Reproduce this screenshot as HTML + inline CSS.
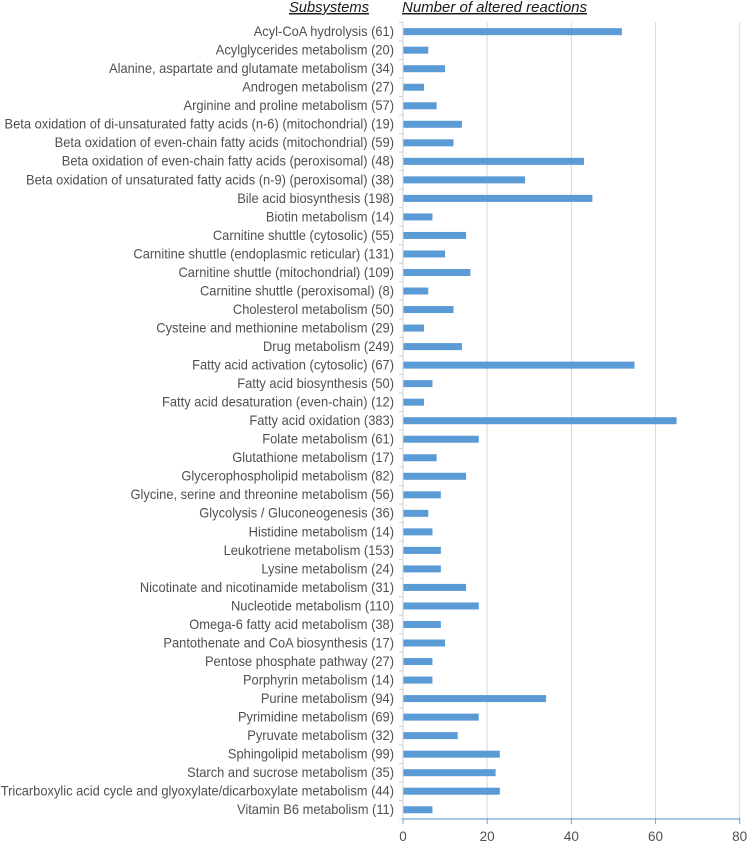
<!DOCTYPE html>
<html lang="en">
<head>
<meta charset="utf-8">
<title>Altered reactions by subsystem</title>
<style>
html,body{margin:0;padding:0;background:#fff;}
body{width:749px;height:844px;overflow:hidden;}
svg{display:block;font-family:"Liberation Sans",sans-serif;filter:blur(0.35px);}
</style>
</head>
<body>
<svg id="chart" width="749" height="844" viewBox="0 0 749 844" xmlns="http://www.w3.org/2000/svg">
<text id="h1" x="289" y="12" font-size="14.5" font-style="italic" fill="#1a1a1a" text-decoration="underline" textLength="80" lengthAdjust="spacingAndGlyphs">Subsystems</text>
<text id="h2" x="402" y="12" font-size="14.5" font-style="italic" fill="#1a1a1a" text-decoration="underline" textLength="185" lengthAdjust="spacingAndGlyphs">Number of altered reactions</text>
<g id="grid"></g>
<g id="bars"></g>
<g id="yaxis"></g>
<g id="xaxis"></g>
</svg>
<script>
var categories = ["Acyl-CoA hydrolysis (61)","Acylglycerides metabolism (20)","Alanine, aspartate and glutamate metabolism (34)","Androgen metabolism (27)","Arginine and proline metabolism (57)","Beta oxidation of di-unsaturated fatty acids (n-6) (mitochondrial) (19)","Beta oxidation of even-chain fatty acids (mitochondrial) (59)","Beta oxidation of even-chain fatty acids (peroxisomal) (48)","Beta oxidation of unsaturated fatty acids (n-9) (peroxisomal) (38)","Bile acid biosynthesis (198)","Biotin metabolism (14)","Carnitine shuttle (cytosolic) (55)","Carnitine shuttle (endoplasmic reticular) (131)","Carnitine shuttle (mitochondrial) (109)","Carnitine shuttle (peroxisomal) (8)","Cholesterol metabolism (50)","Cysteine and methionine metabolism (29)","Drug metabolism (249)","Fatty acid activation (cytosolic) (67)","Fatty acid biosynthesis (50)","Fatty acid desaturation (even-chain) (12)","Fatty acid oxidation (383)","Folate metabolism (61)","Glutathione metabolism (17)","Glycerophospholipid metabolism (82)","Glycine, serine and threonine metabolism (56)","Glycolysis / Gluconeogenesis (36)","Histidine metabolism (14)","Leukotriene metabolism (153)","Lysine metabolism (24)","Nicotinate and nicotinamide metabolism (31)","Nucleotide metabolism (110)","Omega-6 fatty acid metabolism (38)","Pantothenate and CoA biosynthesis (17)","Pentose phosphate pathway (27)","Porphyrin metabolism (14)","Purine metabolism (94)","Pyrimidine metabolism (69)","Pyruvate metabolism (32)","Sphingolipid metabolism (99)","Starch and sucrose metabolism (35)","Tricarboxylic acid cycle and glyoxylate/dicarboxylate metabolism (44)","Vitamin B6 metabolism (11)"];
var seriesValues = [52,6,10,5,8,14,12,43,29,45,7,15,10,16,6,12,5,14,55,7,5,65,18,8,15,9,6,7,9,9,15,18,9,10,7,7,34,18,13,23,22,23,7];
var tickLabels = [0,20,40,60,80];

var NS = "http://www.w3.org/2000/svg";
var plot = {left:403, right:739.7, top:22.4, bottom:819};
var xMax = tickLabels[tickLabels.length - 1];
function xScale(v){ return plot.left + v / xMax * (plot.right - plot.left); }
function rowHeight(){ return (plot.bottom - plot.top) / categories.length; }
function yCenter(i){ return plot.top + rowHeight() * (i + 0.5); }
function mk(tag, attrs, parent){
  var el = document.createElementNS(NS, tag);
  for (var k in attrs) el.setAttribute(k, attrs[k]);
  parent.appendChild(el);
  return el;
}
var gGrid = document.getElementById("grid");
var gBars = document.getElementById("bars");
var gY = document.getElementById("yaxis");
var gX = document.getElementById("xaxis");

tickLabels.forEach(function(t){
  if (t === 0) return;
  var line = mk("line", {x1:xScale(t), x2:xScale(t), y1:plot.top, y2:plot.bottom, stroke:"#d9d9d9", "stroke-width":1}, gGrid);
  
  
});

var axisV = mk("line", {x1:plot.left, x2:plot.left, y1:plot.top, y2:plot.bottom, stroke:"#d0d0d0", "stroke-width":1}, gY);



for (var b = 0; b <= categories.length; b++) {
  var yy = plot.top + rowHeight() * b;
  var tick = mk("line", {x1:plot.left - 4, x2:plot.left, y1:yy, y2:yy, stroke:"#d0d0d0", "stroke-width":1}, gY);
  
  
}

categories.forEach(function(name, i){
  var y = yCenter(i);
  var bar = mk("rect", {x:plot.left, y:y - 3.5, width:xScale(seriesValues[i]) - plot.left, height:7, fill:"#5b9bd5"}, gBars);
  
  
  var label = mk("text", {transform:"translate(394," + (y + 4.4) + ") scale(0.955,1)", "text-anchor":"end", "font-size":13.5, fill:"#505050"}, gY);
  label.textContent = name;
  
  
});

var axisH = mk("line", {x1:plot.left, x2:plot.right, y1:plot.bottom, y2:plot.bottom, stroke:"#6ea6da", "stroke-width":1.2}, gX);



tickLabels.forEach(function(t){
  var mark = mk("line", {x1:xScale(t), x2:xScale(t), y1:plot.bottom - 1, y2:plot.bottom + 5, stroke:"#6ea6da", "stroke-width":1}, gX);
  
  
  var txt = mk("text", {x:xScale(t), y:841, "text-anchor":"middle", "font-size":13.5, fill:"#505050"}, gX);
  txt.textContent = t;
  
  
});
</script>
</body>
</html>
